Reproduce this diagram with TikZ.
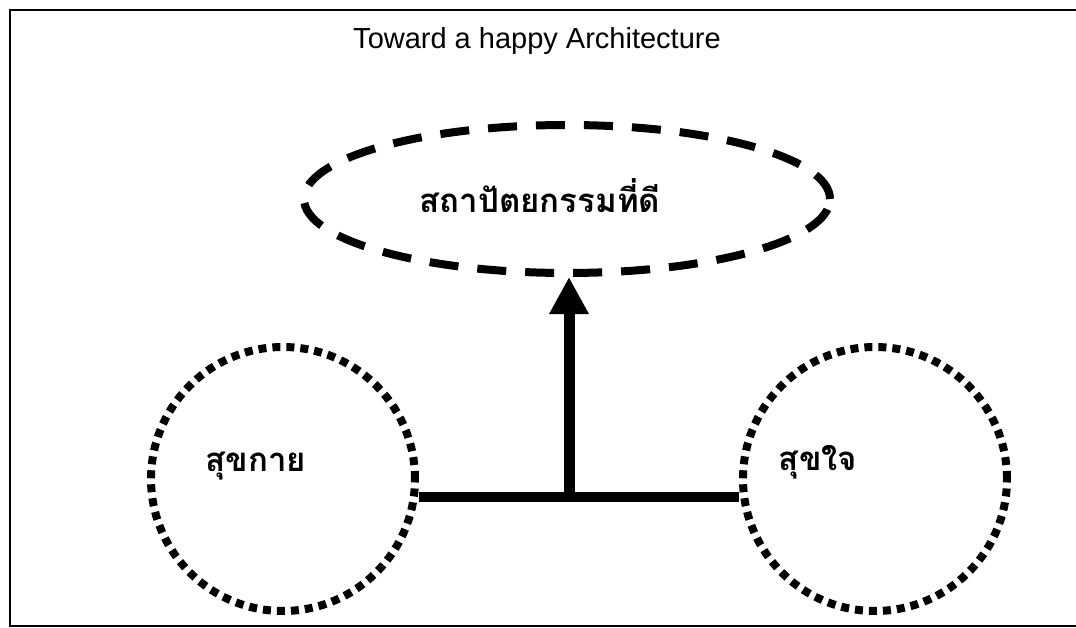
\documentclass[tikz,border=0pt]{standalone}
\usepackage{fontspec}
\setmainfont{Liberation Sans}
\newfontfamily\thaifont[Script=Thai]{Loma}
\usetikzlibrary{shapes.geometric,arrows.meta}
\begin{document}
\begin{tikzpicture}[x=1pt,y=-1pt,
  dashring/.style={draw,ellipse,line width=8pt,dash pattern=on 29pt off 19pt,minimum width=526pt,minimum height=148pt},
  dotring/.style={draw,circle,line width=8pt,dash pattern=on 8pt off 6pt,minimum size=264pt},
  thaitext/.style={font=\thaifont\bfseries\fontsize{33}{40}\selectfont}]
\useasboundingbox (0,0) rectangle (1076,628);
\draw[line width=1.4pt] (1080,10) -- (10,10) -- (10,626) -- (1080,626);

\node (title) at (537,41) {\fontsize{29}{34}\selectfont Toward a happy Architecture};

\node[dashring] (good) at (567,199) {};
\node[dotring] (body) at (283,479) {};
\node[dotring] (mind) at (875,479) {};

\node[thaitext] (goodtext) at (540,196) {สถาปัตยกรรมที่ดี};
\node[thaitext] (bodytext) at (256,466) {สุขกาย};
\node[thaitext] (mindtext) at (818,462) {สุขใจ};

\coordinate (join) at (569,497);
\draw[line width=10pt] (body.east |- join) -- (mind.west |- join);
\draw[line width=11pt,-{Triangle[length=37pt,width=37pt]}] ([yshift=5pt]join) -- (join |- good.south);
\end{tikzpicture}
\end{document}
